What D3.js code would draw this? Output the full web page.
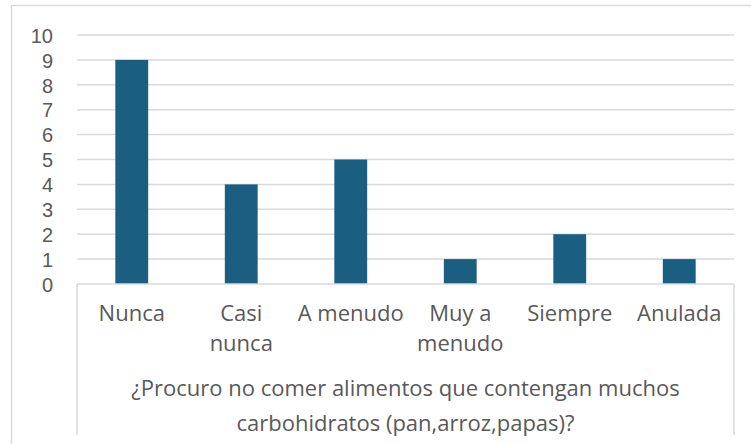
<!DOCTYPE html>
<html>
<head>
<meta charset="utf-8">
<script src="https://cdn.jsdelivr.net/npm/d3@7"></script>
<style>
  body { margin: 0; background: #fff; }
  svg text { font-family: "Open Sans", "Liberation Sans", sans-serif; fill: #595959; }
  svg .ytick text { font-family: "Liberation Sans", Arial, sans-serif; }
</style>
</head>
<body>
<div id="chart"></div>
<script>
const categories = ["Nunca", "Casi nunca", "A menudo", "Muy a menudo", "Siempre", "Anulada"];
const counts = [9, 4, 5, 1, 2, 1];
const yTicks = [0, 1, 2, 3, 4, 5, 6, 7, 8, 9, 10];
const titleLines = ["¿Procuro no comer alimentos que contengan muchos", "carbohidratos (pan,arroz,papas)?"];

const width = 751, height = 444;
const margin = {top: 35, right: 17, bottom: 160, left: 77};
const innerW = width - margin.left - margin.right;
const innerH = height - margin.top - margin.bottom;

const svg = d3.select("#chart").append("svg")
  .attr("width", width)
  .attr("height", height);

// chart frame
svg.append("rect")
  .attr("x", 11.5).attr("y", 5.5)
  .attr("width", 760).attr("height", 460)
  .attr("fill", "none")
  .attr("stroke", "#d9d9d9")
  .attr("stroke-width", 1.5);

const g = svg.append("g")
  .attr("transform", "translate(" + margin.left + "," + margin.top + ")");

const x = d3.scaleBand()
  .domain(categories)
  .range([0, innerW])
  .paddingInner(0.7)
  .paddingOuter(0.35);

const y = d3.scaleLinear()
  .domain([0, 10])
  .range([innerH, 0]);

// gridlines
g.append("g")
  .selectAll("line")
  .data(yTicks.filter(d => d > 0))
  .enter().append("line")
    .attr("x1", 0).attr("x2", innerW)
    .attr("y1", d => y(d)).attr("y2", d => y(d))
    .attr("stroke", "#d9d9d9")
    .attr("stroke-width", 1.5);

// y axis labels
const yAxis = g.append("g")
  .attr("class", "ytick")
  .call(d3.axisLeft(y).tickValues(yTicks).tickSize(0).tickPadding(24));
yAxis.select(".domain").remove();
yAxis.selectAll("text")
  .style("font-size", "20px")
  .attr("fill", "#595959")
  .attr("dy", "0.36em");

// bars
g.selectAll(".bar")
  .data(counts)
  .enter().append("rect")
    .attr("class", "bar")
    .attr("x", (d, i) => x(categories[i]))
    .attr("width", x.bandwidth())
    .attr("y", d => y(d))
    .attr("height", d => innerH - y(d))
    .attr("fill", "#1a5f82");

// category axis box
const boxBottom = 400;
g.append("line")
  .attr("x1", 0).attr("x2", innerW)
  .attr("y1", innerH).attr("y2", innerH)
  .attr("stroke", "#d9d9d9").attr("stroke-width", 1.5);
[0, innerW].forEach(function(px) {
  g.append("line")
    .attr("x1", px).attr("x2", px)
    .attr("y1", innerH).attr("y2", boxBottom)
    .attr("stroke", "#d9d9d9").attr("stroke-width", 1.5);
});

// category labels, wrapped to the band step
const step = x.step();
const labels = g.append("g").selectAll("text")
  .data(categories)
  .enter().append("text")
    .attr("x", d => x(d) + x.bandwidth() / 2)
    .attr("y", innerH + 37)
    .attr("text-anchor", "middle")
    .style("font-size", "22px");

labels.each(function(d) {
  const text = d3.select(this);
  const words = d.split(" ");
  let line = [];
  let tspan = text.append("tspan").attr("x", text.attr("x")).attr("dy", 0);
  words.forEach(function(w) {
    line.push(w);
    tspan.text(line.join(" "));
    if (tspan.node().getComputedTextLength() > step && line.length > 1) {
      line.pop();
      tspan.text(line.join(" "));
      line = [w];
      tspan = text.append("tspan").attr("x", text.attr("x")).attr("dy", "1.36em").text(w);
    }
  });
});

// axis title
const title = g.append("text")
  .attr("x", innerW / 2)
  .attr("y", innerH + 112)
  .attr("text-anchor", "middle")
  .style("font-size", "22px");
title.selectAll("tspan")
  .data(titleLines)
  .enter().append("tspan")
    .attr("x", innerW / 2)
    .attr("dy", (d, i) => i === 0 ? 0 : "1.6em")
    .text(d => d);
</script>
</body>
</html>
